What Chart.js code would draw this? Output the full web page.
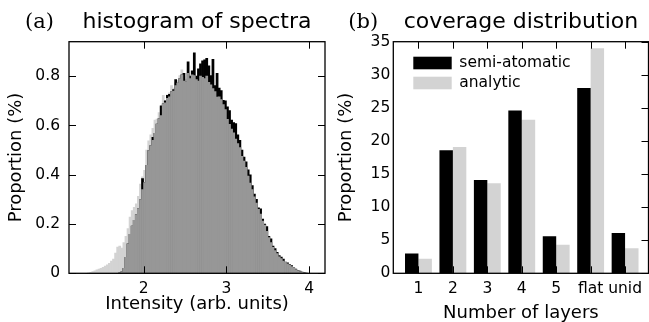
<!DOCTYPE html>
<html><head><meta charset="utf-8">
<script src="https://cdn.jsdelivr.net/npm/chart.js@4.4.1/dist/chart.umd.min.js"></script>
<style>
html,body{margin:0;padding:0;background:#fff;}
#wrap{position:relative;width:649px;height:322px;overflow:hidden;background:#fff;}
canvas{position:absolute;top:0;}
#c1{left:0;} #c2{left:330px;}
</style></head><body>
<div id="wrap"><canvas id="c1" width="330" height="322"></canvas><canvas id="c2" width="319" height="322"></canvas></div>
<script>
// ---------- (a) histogram of spectra ----------
const binStart = 1.30;
const binWidth = 0.025;
const histAnalytic = [
 0,0.002,0.004,0.007,0.010,0.014,0.017,0.020,0.024,0.029,
 0.034,0.040,0.050,0.058,0.082,0.106,0.110,0.102,0.125,0.150,
 0.182,0.228,0.255,0.268,0.282,0.312,0.362,0.392,0.418,0.500,
 0.538,0.562,0.588,0.622,0.626,0.652,0.676,0.722,0.702,0.724,
 0.732,0.762,0.752,0.774,0.782,0.802,0.826,0.798,0.788,0.812,
 0.798,0.806,0.802,0.786,0.780,0.800,0.795,0.790,0.800,0.775,
 0.765,0.750,0.738,0.715,0.716,0.705,0.685,0.665,0.625,0.605,
 0.585,0.570,0.545,0.527,0.510,0.475,0.455,0.430,0.395,0.366,
 0.340,0.310,0.285,0.260,0.240,0.212,0.196,0.170,0.145,0.125,
 0.105,0.092,0.080,0.067,0.060,0.050,0.045,0.038,0.033,0.027,
 0.020,0.015,0.011,0.007,0.004,0.002,0.001,0
];
const histSemiAtomatic = [
 0,0,0,0,0,0,0,0,0,0,
 0,0,0,0,0,0,0.002,0.006,0.020,0.065,
 0.120,0.158,0.192,0.215,0.238,0.262,0.298,0.384,0.368,0.438,
 0.498,0.518,0.552,0.568,0.606,0.628,0.680,0.688,0.700,0.722,
 0.726,0.738,0.746,0.786,0.772,0.790,0.806,0.812,0.776,0.858,
 0.800,0.822,0.895,0.800,0.830,0.850,0.862,0.866,0.872,0.842,
 0.802,0.868,0.762,0.812,0.752,0.742,0.702,0.700,0.676,0.660,
 0.622,0.612,0.608,0.562,0.540,0.500,0.472,0.452,0.420,0.400,
 0.356,0.322,0.300,0.266,0.262,0.220,0.200,0.190,0.150,0.140,
 0.110,0.100,0.085,0.072,0.066,0.058,0.046,0.043,0.035,0.031,
 0.022,0.017,0.012,0.009,0.005,0.003,0.001,0
];
const histOverlap = [
 0,0,0,0,0,0,0,0,0,0,
 0,0,0,0,0,0,0.002,0.006,0.020,0.065,
 0.120,0.158,0.192,0.215,0.238,0.262,0.298,0.340,0.368,0.438,
 0.498,0.518,0.540,0.568,0.606,0.628,0.640,0.688,0.692,0.710,
 0.716,0.738,0.740,0.762,0.772,0.790,0.806,0.780,0.776,0.812,
 0.790,0.806,0.802,0.786,0.780,0.800,0.795,0.790,0.800,0.775,
 0.765,0.750,0.738,0.715,0.716,0.705,0.685,0.665,0.625,0.605,
 0.585,0.570,0.545,0.527,0.510,0.475,0.455,0.430,0.395,0.366,
 0.340,0.310,0.285,0.260,0.240,0.212,0.196,0.170,0.145,0.125,
 0.105,0.092,0.080,0.067,0.060,0.050,0.045,0.038,0.033,0.027,
 0.020,0.015,0.011,0.007,0.004,0.002,0.001,0
];
const intensityTicks = [2, 3, 4];
const proportionTicksA = [0, 0.2, 0.4, 0.6, 0.8];

// ---------- (b) coverage distribution ----------
const layerCategories = ['1', '2', '3', '4', '5', 'flat', 'unid'];
const coverageSemiAtomatic = [3.0, 18.6, 14.1, 24.6, 5.6, 28.0, 6.1];
const coverageAnalytic = [2.2, 19.1, 13.6, 23.2, 4.3, 34.0, 3.8];
const proportionTicksB = [0, 5, 10, 15, 20, 25, 30, 35];

Chart.defaults.font.family = '"DejaVu Sans", sans-serif';
Chart.defaults.font.size = 15.5;
Chart.defaults.color = '#000';
Chart.defaults.animation = false;

// inward tick marks + frame
const frameTicks = {
  id: 'frameTicks',
  afterDatasetsDraw(chart, args, o) {
    const {ctx, chartArea: a, scales} = chart;
    const xs = scales.x, ys = scales.y;
    const L = o.len;
    ctx.save();
    ctx.strokeStyle = '#000';
    ctx.lineWidth = 1;
    ctx.beginPath();
    xs.ticks.forEach(t => {
      const p = Math.round(xs.getPixelForValue(t.value)) + 0.5;
      if (o.bottom) { ctx.moveTo(p, a.bottom); ctx.lineTo(p, a.bottom - L); }
      if (o.top) { ctx.moveTo(p, a.top); ctx.lineTo(p, a.top + L); }
    });
    ys.ticks.forEach(t => {
      const p = Math.round(ys.getPixelForValue(t.value)) + 0.5;
      if (o.left) { ctx.moveTo(a.left, p); ctx.lineTo(a.left + L, p); }
      if (o.right) { ctx.moveTo(a.right, p); ctx.lineTo(a.right - L, p); }
    });
    ctx.stroke();
    ctx.lineWidth = 1.3;
    ctx.strokeRect(a.left, a.top, a.right - a.left, a.bottom - a.top);
    ctx.restore();
  }
};

// panel tag + title above the plot area
const panelTitle = {
  id: 'panelTitle',
  afterDraw(chart, args, o) {
    const {ctx, chartArea: a} = chart;
    const base = a.top - o.gap;
    ctx.save();
    ctx.fillStyle = '#000';
    ctx.textBaseline = 'alphabetic';
    ctx.font = '21px "DejaVu Serif", serif';
    ctx.textAlign = 'left';
    ctx.fillText(o.tag, o.tagX, base);
    ctx.font = '22px "DejaVu Sans", sans-serif';
    ctx.textAlign = 'center';
    ctx.fillText(o.text, (a.left + a.right) / 2, base);
    ctx.restore();
  }
};

// legend inside the plot area
const innerLegend = {
  id: 'innerLegend',
  afterDraw(chart, args, o) {
    const {ctx, chartArea: a} = chart;
    ctx.save();
    chart.data.datasets.forEach((ds, i) => {
      const x = a.left + o.left, y = a.top + o.top + i * o.step;
      ctx.fillStyle = ds.backgroundColor;
      ctx.fillRect(x, y, o.boxW, o.boxH);
      ctx.fillStyle = '#000';
      ctx.font = '15.5px "DejaVu Sans", sans-serif';
      ctx.textAlign = 'left';
      ctx.textBaseline = 'middle';
      ctx.fillText(ds.label, x + o.boxW + o.gap, y + o.boxH / 2);
    });
    ctx.restore();
  }
};

// ----- chart (a)
const centers = histAnalytic.map((_, i) => binStart + binWidth * (i + 0.5));
const pts = arr => arr.map((v, i) => ({x: centers[i], y: v}));
const histStyle = {grouped: false, barPercentage: 1, categoryPercentage: 1, borderWidth: 0};

new Chart(document.getElementById('c1'), {
  type: 'bar',
  data: {
    datasets: [
      Object.assign({label: 'overlap', data: pts(histOverlap), backgroundColor: '#979797'}, histStyle),
      Object.assign({label: 'semi-atomatic', data: pts(histSemiAtomatic), backgroundColor: '#000000'}, histStyle),
      Object.assign({label: 'analytic', data: pts(histAnalytic), backgroundColor: '#d3d3d3'}, histStyle)
    ]
  },
  plugins: [frameTicks, panelTitle],
  options: {
    responsive: false,
    devicePixelRatio: 1,
    layout: {padding: {top: 41.7, right: 5, bottom: 0, left: 0}},
    plugins: {
      legend: {display: false},
      tooltip: {enabled: false},
      frameTicks: {len: 7, top: true, bottom: true, left: true, right: true},
      panelTitle: {tag: '(a)', tagX: 25, text: 'histogram of spectra', gap: 13.4}
    },
    scales: {
      x: {
        type: 'linear', min: 1.1, max: 4.19, offset: false,
        grid: {display: false, drawTicks: false, offset: false},
        border: {display: false},
        afterBuildTicks: s => { s.ticks = intensityTicks.map(v => ({value: v})); },
        afterFit: s => { s.height = 48.7; },
        ticks: {padding: 6, maxRotation: 0, autoSkip: false, callback: v => String(v)},
        title: {display: true, text: 'Intensity (arb. units)', font: {size: 18}, padding: {top: 0, bottom: 6.5}}
      },
      y: {
        min: 0, max: 0.94,
        grid: {display: false, drawTicks: false},
        border: {display: false},
        afterBuildTicks: s => { s.ticks = proportionTicksA.map(v => ({value: v})); },
        afterFit: s => { s.width = 69; },
        ticks: {padding: 9, callback: v => (v === 0 ? '0' : v.toFixed(1))},
        title: {display: true, text: 'Proportion (%)', font: {size: 18}, padding: {top: 5.4, bottom: 0}}
      }
    }
  }
});

// ----- chart (b)
const barPts = arr => arr.map((v, i) => ({x: i + 1, y: v}));
new Chart(document.getElementById('c2'), {
  type: 'bar',
  data: {
    datasets: [
      {label: 'semi-atomatic', data: barPts(coverageSemiAtomatic), backgroundColor: '#000000', borderWidth: 0, barPercentage: 1, categoryPercentage: 0.78},
      {label: 'analytic', data: barPts(coverageAnalytic), backgroundColor: '#d3d3d3', borderWidth: 0, barPercentage: 1, categoryPercentage: 0.78}
    ]
  },
  plugins: [frameTicks, panelTitle, innerLegend],
  options: {
    responsive: false,
    devicePixelRatio: 1,
    layout: {padding: {top: 41.7, right: 0.5, bottom: 0, left: 0}},
    plugins: {
      legend: {display: false},
      tooltip: {enabled: false},
      frameTicks: {len: 7, top: true, bottom: true, left: false, right: true},
      panelTitle: {tag: '(b)', tagX: 18.3, text: 'coverage distribution', gap: 13.4},
      innerLegend: {left: 20, top: 15, step: 20, boxW: 38.4, boxH: 12.6, gap: 7.6}
    },
    scales: {
      x: {
        type: 'linear', min: 0.27, max: 7.68, offset: false,
        grid: {display: false, drawTicks: false, offset: false},
        border: {display: false},
        afterBuildTicks: s => { s.ticks = layerCategories.map((_, i) => ({value: i + 1})); },
        afterFit: s => { s.height = 48.7; },
        ticks: {padding: 6, maxRotation: 0, autoSkip: false, callback: v => layerCategories[Math.round(v) - 1]},
        title: {display: true, text: 'Number of layers', font: {size: 18, lineHeight: 1}, padding: {top: 0, bottom: 0}}
      },
      y: {
        min: 0, max: 35,
        grid: {display: false, drawTicks: false},
        border: {display: false},
        afterBuildTicks: s => { s.ticks = proportionTicksB.map(v => ({value: v})); },
        afterFit: s => { s.width = 63.3; },
        ticks: {padding: 3, callback: v => String(v)},
        title: {display: true, text: 'Proportion (%)', font: {size: 18}, padding: {top: 5.4, bottom: 0}}
      }
    }
  }
});
</script></body></html>
